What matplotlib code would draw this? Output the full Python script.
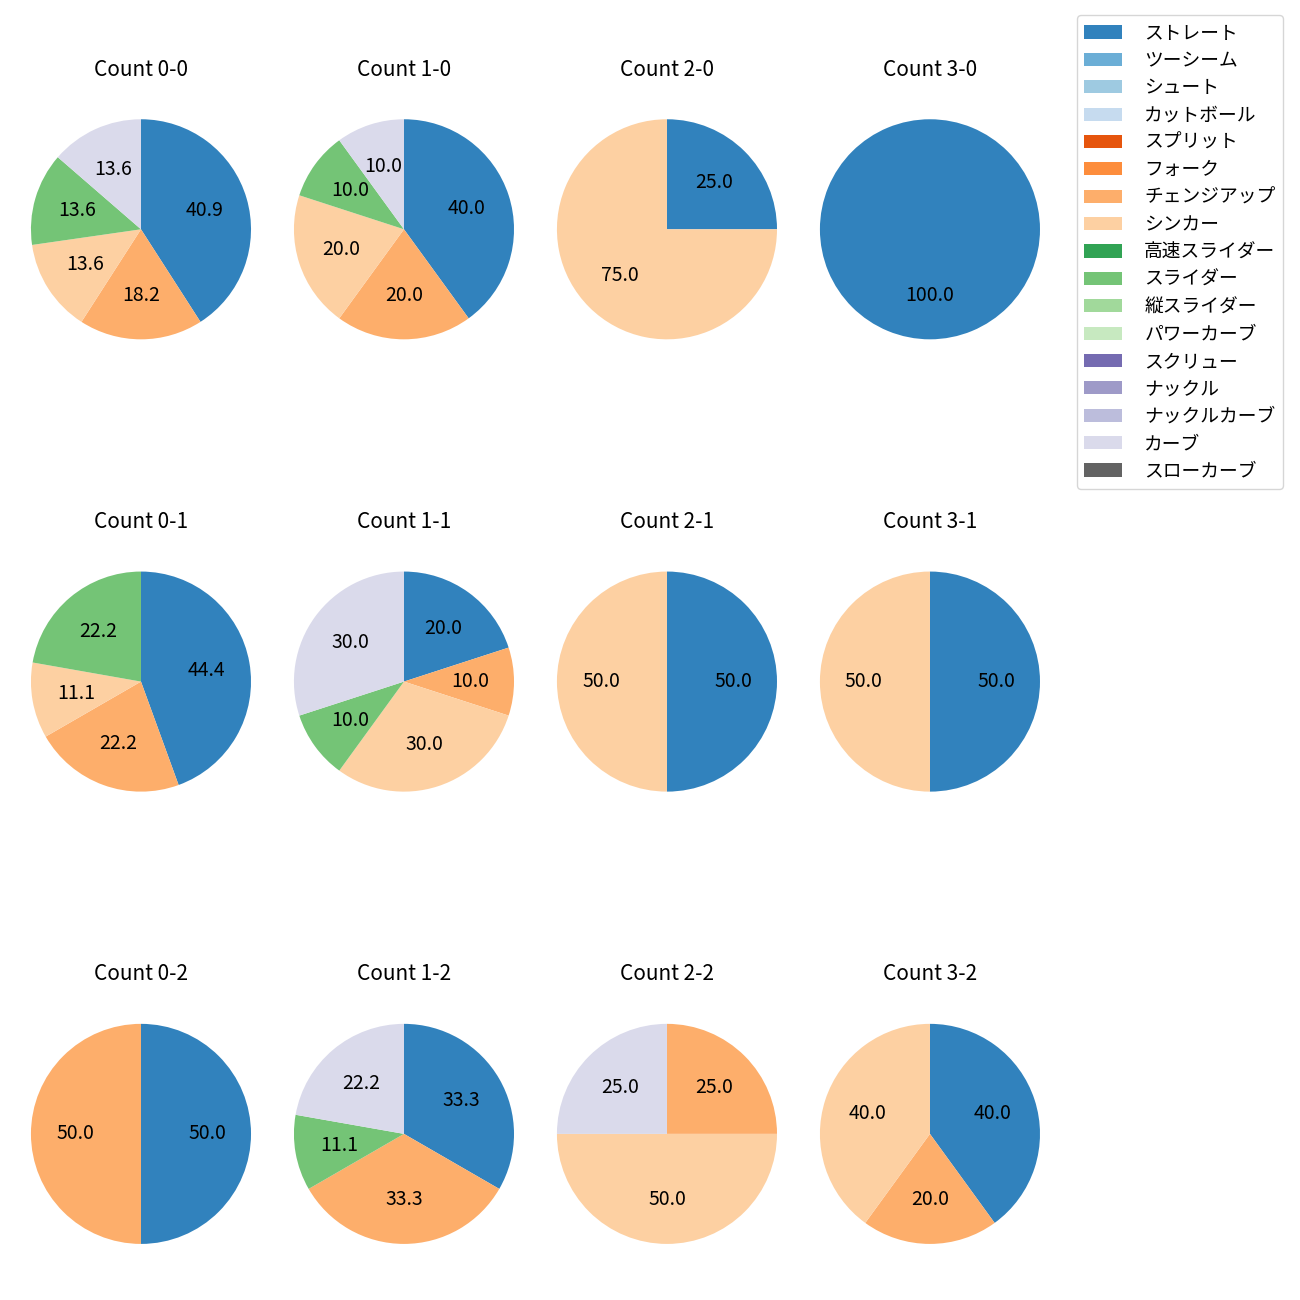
import matplotlib
matplotlib.use('Agg')
import matplotlib.pyplot as plt
from matplotlib.patches import Patch
import numpy as np

plt.rcParams['font.family'] = ['Noto Sans CJK JP', 'DejaVu Sans']

# all pitch types shown in the legend, tab20c order
pitch_types = ['ストレート', 'ツーシーム', 'シュート', 'カットボール', 'スプリット', 'フォーク',
               'チェンジアップ', 'シンカー', '高速スライダー', 'スライダー', '縦スライダー',
               'パワーカーブ', 'スクリュー', 'ナックル', 'ナックルカーブ', 'カーブ', 'スローカーブ']
pitch_colors = [plt.get_cmap('tab20c')(i) for i in range(16)] + ['#636363']

# pitch types thrown in these counts
used_types = ['ストレート', 'チェンジアップ', 'シンカー', 'スライダー', 'カーブ']

balls = [0, 1, 2, 3]
strikes = [0, 1, 2]

# number of pitches per count "balls-strikes", columns follow used_types
pitches = {
    '0-0': [9, 4, 3, 3, 3],
    '1-0': [4, 2, 2, 1, 1],
    '2-0': [1, 0, 3, 0, 0],
    '3-0': [1, 0, 0, 0, 0],
    '0-1': [4, 2, 1, 2, 0],
    '1-1': [2, 1, 3, 1, 3],
    '2-1': [1, 0, 1, 0, 0],
    '3-1': [1, 0, 1, 0, 0],
    '0-2': [1, 1, 0, 0, 0],
    '1-2': [3, 3, 0, 1, 2],
    '2-2': [0, 1, 2, 0, 1],
    '3-2': [2, 1, 2, 0, 0],
}

fig, axs = plt.subplots(3, 4, figsize=(13, 13), dpi=100)
fig.subplots_adjust(left=0.0073, right=0.8165, top=0.936, bottom=0.0154,
                    wspace=0, hspace=0.548)

for s in strikes:
    for b in balls:
        ax = axs[s, b]
        key = f'{b}-{s}'
        vals = np.array(pitches[key], dtype=float)
        mask = vals > 0
        cols = [pitch_colors[pitch_types.index(t)] for t in used_types]
        ax.pie(vals[mask], colors=[c for c, m in zip(cols, mask) if m],
               autopct='%.1f', startangle=90, counterclock=False, radius=1.046,
               textprops={'fontsize': 14})
        ax.set_title(f'Count {key}', fontsize=15, pad=16)

handles = [Patch(facecolor=c, label=t) for t, c in zip(pitch_types, pitch_colors)]
fig.legend(handles=handles, loc='upper right', bbox_to_anchor=(1283 / 1300, 1 - 15 / 1300),
           borderaxespad=0, fontsize=13.5, labelspacing=0.34, handletextpad=1.2)

fig.savefig('out.png', dpi=100)
